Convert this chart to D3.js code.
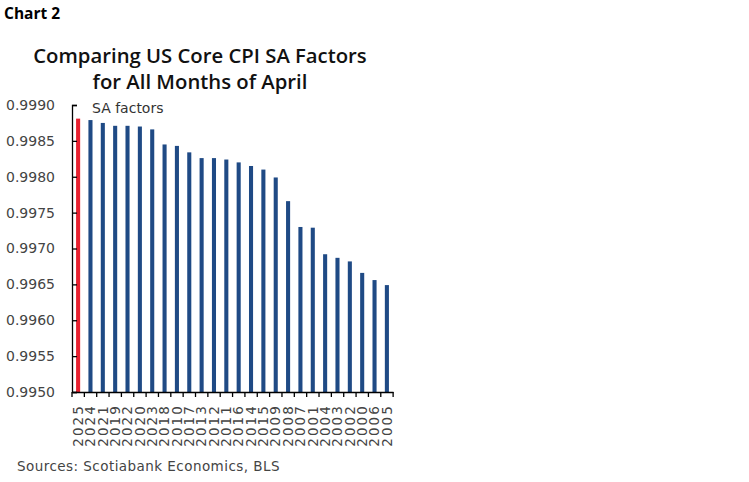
<!DOCTYPE html>
<html>
<head>
<meta charset="utf-8">
<script src="https://cdn.jsdelivr.net/npm/d3@7"></script>
<style>
  body { margin: 0; background: #fff; }
  svg { display: block; }
</style>
</head>
<body>
<div id="chart"></div>
<script>
// years in the order they are plotted (sorted by SA factor)
var years = ["2025", "2024", "2021", "2019", "2022", "2020", "2023", "2018", "2010", "2017",
    "2013", "2012", "2011", "2016", "2014", "2015", "2009", "2008", "2007", "2001",
    "2004", "2003", "2002", "2000", "2006", "2005"];
var saFactors = [0.99881, 0.99879, 0.99875, 0.99871, 0.99871, 0.99870, 0.99866, 0.99845, 0.99843, 0.99834,
    0.99826, 0.99826, 0.99824, 0.99820, 0.99815, 0.99810, 0.99799, 0.99766, 0.99730, 0.99729,
    0.99692, 0.99687, 0.99682, 0.99666, 0.99656, 0.99649];
var yTicks = [0.9950, 0.9955, 0.9960, 0.9965, 0.9970, 0.9975, 0.9980, 0.9985, 0.9990];

var svgWidth = 749;
var svgHeight = 482;
var margin = { top: 105, right: 356, bottom: 90, left: 72 };
var width = svgWidth - margin.left - margin.right;
var height = svgHeight - margin.top - margin.bottom;

var font = "'DejaVu Sans', Verdana, sans-serif";

var svg = d3.select("#chart")
    .append("svg")
    .attr("width", svgWidth)
    .attr("height", svgHeight);

// header text
svg.append("text")
    .attr("x", 4).attr("y", 19)
    .attr("font-family", "'Open Sans', sans-serif")
    .attr("font-weight", "bold")
    .attr("font-size", 15.5)
    .attr("fill", "#000")
    .text("Chart 2");

var title = svg.append("text")
    .attr("text-anchor", "middle")
    .attr("font-family", "'Open Sans', sans-serif")
    .attr("font-weight", "600")
    .attr("font-size", 20.3)
    .attr("fill", "#111");
title.append("tspan").attr("x", 200).attr("y", 63).text("Comparing US Core CPI SA Factors");
title.append("tspan").attr("x", 200).attr("y", 89).text("for All Months of April");

var chartGroup = svg.append("g")
    .attr("transform", "translate(" + margin.left + "," + margin.top + ")");

// scales
var xScale = d3.scaleBand().domain(years).range([0, width]).paddingInner(0.67).paddingOuter(0.33);
var yScale = d3.scaleLinear().domain([0.9950, 0.9990]).range([height, 0]);

// bars
chartGroup.selectAll("rect.bar")
    .data(years)
    .enter()
    .append("rect")
    .attr("class", "bar")
    .attr("x", d => xScale(d))
    .attr("width", xScale.bandwidth())
    .attr("y", (d, i) => yScale(saFactors[i]))
    .attr("height", (d, i) => height - yScale(saFactors[i]))
    .attr("fill", (d, i) => i === 0 ? "#e8202f" : "#1f4a85");

// y axis, ticks pointing inward
var leftAxis = d3.axisLeft(yScale)
    .tickValues(yTicks)
    .tickFormat(d3.format(".4f"))
    .tickSizeInner(-5)
    .tickSizeOuter(-5)
    .tickPadding(17);
var yAxis = chartGroup.append("g").call(leftAxis);
yAxis.select(".domain").attr("stroke", "#000").attr("stroke-width", 1.3);
yAxis.selectAll(".tick line").attr("stroke", "#000").attr("stroke-width", 1.3);
yAxis.selectAll("text")
    .attr("font-family", font)
    .attr("font-size", 14)
    .attr("fill", "#444");

// x axis with ticks between bars
var step = xScale.step();
var bottomAxis = d3.axisBottom(xScale).tickSize(0).tickPadding(8);
var xAxis = chartGroup.append("g")
    .attr("transform", "translate(0," + height + ")")
    .call(bottomAxis);
xAxis.select(".domain").attr("stroke", "#000").attr("stroke-width", 1.3);
xAxis.selectAll(".tick text")
    .attr("font-family", font)
    .attr("font-size", 13.5)
    .attr("letter-spacing", 2.1)
    .attr("fill", "#444")
    .attr("text-anchor", "end")
    .attr("dy", "0.35em")
    .attr("transform", "translate(0,2) rotate(-90)")
    .attr("x", -10)
    .attr("y", 0);

chartGroup.append("g")
    .selectAll("line")
    .data(d3.range(years.length + 1))
    .enter()
    .append("line")
    .attr("x1", d => d * step)
    .attr("x2", d => d * step)
    .attr("y1", height)
    .attr("y2", height + 5)
    .attr("stroke", "#000")
    .attr("stroke-width", 1.3);

// legend label
chartGroup.append("text")
    .attr("x", 20).attr("y", 8)
    .attr("font-family", font)
    .attr("font-size", 14)
    .attr("fill", "#333")
    .text("SA factors");

// source
svg.append("text")
    .attr("x", 17).attr("y", 471)
    .attr("font-family", font)
    .attr("font-size", 13.5)
    .attr("letter-spacing", 0.45)
    .attr("fill", "#444")
    .text("Sources: Scotiabank Economics, BLS");
</script>
</body>
</html>
